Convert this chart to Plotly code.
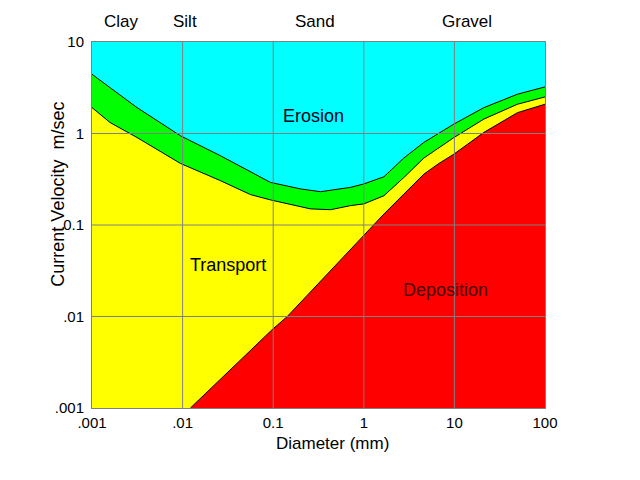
import math
import plotly.graph_objects as go

# ---- data (diameter in mm, current velocity in m/s) ----
diam_erosion_top = [0.001, 0.00314, 0.00946, 0.0262, 0.0933, 0.2, 0.333, 0.715, 1.0, 1.67, 2.77, 4.61, 9.9, 21.2, 49.7, 100]
vel_erosion_top = [4.44, 1.92, 0.944, 0.571, 0.292, 0.248, 0.231, 0.258, 0.281, 0.337, 0.54, 0.80, 1.27, 1.92, 2.69, 3.23]

diam_erosion_bottom = [0.001, 0.00158, 0.00314, 0.00946, 0.0262, 0.0561, 0.0933, 0.258, 0.43, 0.715, 1.0, 1.67, 2.77, 4.61, 9.9, 21.2, 49.7, 100]
vel_erosion_bottom = [1.92, 1.32, 0.904, 0.471, 0.305, 0.215, 0.188, 0.15, 0.147, 0.163, 0.17, 0.209, 0.331, 0.54, 0.904, 1.44, 2.09, 2.51]

diam_deposition = [0.0122, 0.0962, 0.143, 1.0, 1.28, 1.67, 2.77, 4.61, 6.76, 9.9, 21.2, 49.7, 100]
vel_deposition = [0.001, 0.0071, 0.01, 0.0766, 0.1, 0.132, 0.218, 0.36, 0.471, 0.596, 1.03, 1.69, 2.09]

x_tickvals = [0.001, 0.01, 0.1, 1, 10, 100]
x_ticktext = [".001", ".01", "0.1", "1", "10", "100"]
y_tickvals = [0.001, 0.01, 0.1, 1, 10]
y_ticktext = [".001", ".01", "0.1", "1", "10"]

size_classes = ["Clay", "Silt", "Sand", "Gravel"]
size_class_x = [0.0021, 0.0106, 0.29, 13.7]

region_names = ["Erosion", "Transport", "Deposition"]
region_x = [0.275, 0.0313, 8.0]
region_y = [1.56, 0.0361, 0.0193]
region_colors = ["#000020", "#000000", "#4a0000"]

XMIN, XMAX = 0.001, 100
YMIN, YMAX = 0.001, 10

FONT = "Liberation Sans, Arial, Helvetica, sans-serif"

fig = go.Figure()

# yellow: everything below the lower erosion curve
fig.add_trace(go.Scatter(
    x=diam_erosion_bottom + [XMAX, XMIN],
    y=vel_erosion_bottom + [YMIN, YMIN],
    fill="toself", fillcolor="#FFFF00", mode="none", hoverinfo="skip", showlegend=False))

# green band between the two erosion curves
fig.add_trace(go.Scatter(
    x=diam_erosion_top + diam_erosion_bottom[::-1],
    y=vel_erosion_top + vel_erosion_bottom[::-1],
    fill="toself", fillcolor="#00FF00", mode="none", hoverinfo="skip", showlegend=False))

# red: deposition region
fig.add_trace(go.Scatter(
    x=diam_deposition + [XMAX],
    y=vel_deposition + [YMIN],
    fill="toself", fillcolor="#FF0000", mode="none", hoverinfo="skip", showlegend=False))

# black boundary lines
for xs, ys in [(diam_erosion_top, vel_erosion_top),
               (diam_erosion_bottom, vel_erosion_bottom),
               (diam_deposition, vel_deposition)]:
    fig.add_trace(go.Scatter(x=xs, y=ys, mode="lines",
                             line=dict(color="#000000", width=1),
                             hoverinfo="skip", showlegend=False))

# gridlines drawn above the filled areas
shapes = []
for v in x_tickvals[1:-1]:
    shapes.append(dict(type="line", xref="x", yref="paper", x0=v, x1=v, y0=0, y1=1,
                       line=dict(color="#808080", width=1), layer="above"))
for v in y_tickvals[1:-1]:
    shapes.append(dict(type="line", xref="paper", yref="y", x0=0, x1=1, y0=v, y1=v,
                       line=dict(color="#808080", width=1), layer="above"))

annotations = []
for name, xv in zip(size_classes, size_class_x):
    annotations.append(dict(text=name, x=math.log10(xv), xref="x", y=1.057, yref="paper",
                            xanchor="center", yanchor="middle",
                            showarrow=False, font=dict(size=17, color="black", family=FONT)))
for name, xv, yv, c in zip(region_names, region_x, region_y, region_colors):
    annotations.append(dict(text=name, x=math.log10(xv), y=math.log10(yv), xref="x", yref="y",
                            xanchor="center", yanchor="middle",
                            showarrow=False, font=dict(size=18, color=c, family=FONT)))
annotations.append(dict(text="Current Velocity\u00a0\u00a0m/sec", textangle=-90,
                        x=-0.075, y=0.583, xref="paper", yref="paper", showarrow=False,
                        xanchor="center", yanchor="middle",
                        font=dict(size=18, color="black", family=FONT)))
annotations.append(dict(text="Diameter (mm)", x=0.53, y=-0.096, xref="paper", yref="paper",
                        xanchor="center", yanchor="middle",
                        showarrow=False, font=dict(size=17, color="black", family=FONT)))

fig.update_layout(
    width=632, height=472,
    margin=dict(l=84, r=95, t=34, b=72),
    paper_bgcolor="white",
    plot_bgcolor="#00FFFF",
    shapes=shapes,
    annotations=annotations,
    font=dict(family=FONT, color="black"),
    xaxis=dict(type="log", range=[math.log10(XMIN), math.log10(XMAX)],
               tickvals=x_tickvals, ticktext=x_ticktext, showgrid=False, zeroline=False,
               showline=True, linecolor="#808080", linewidth=1, mirror=True,
               ticks="outside", ticklen=1, tickcolor="rgba(0,0,0,0)",
               tickfont=dict(size=15, color="black", family=FONT)),
    yaxis=dict(type="log", range=[math.log10(YMIN), math.log10(YMAX)],
               tickvals=y_tickvals, ticktext=y_ticktext, showgrid=False, zeroline=False,
               showline=True, linecolor="#808080", linewidth=1, mirror=True,
               ticks="outside", ticklen=4, tickcolor="rgba(0,0,0,0)",
               tickfont=dict(size=15, color="black", family=FONT)),
)

fig.write_html("out.html")
